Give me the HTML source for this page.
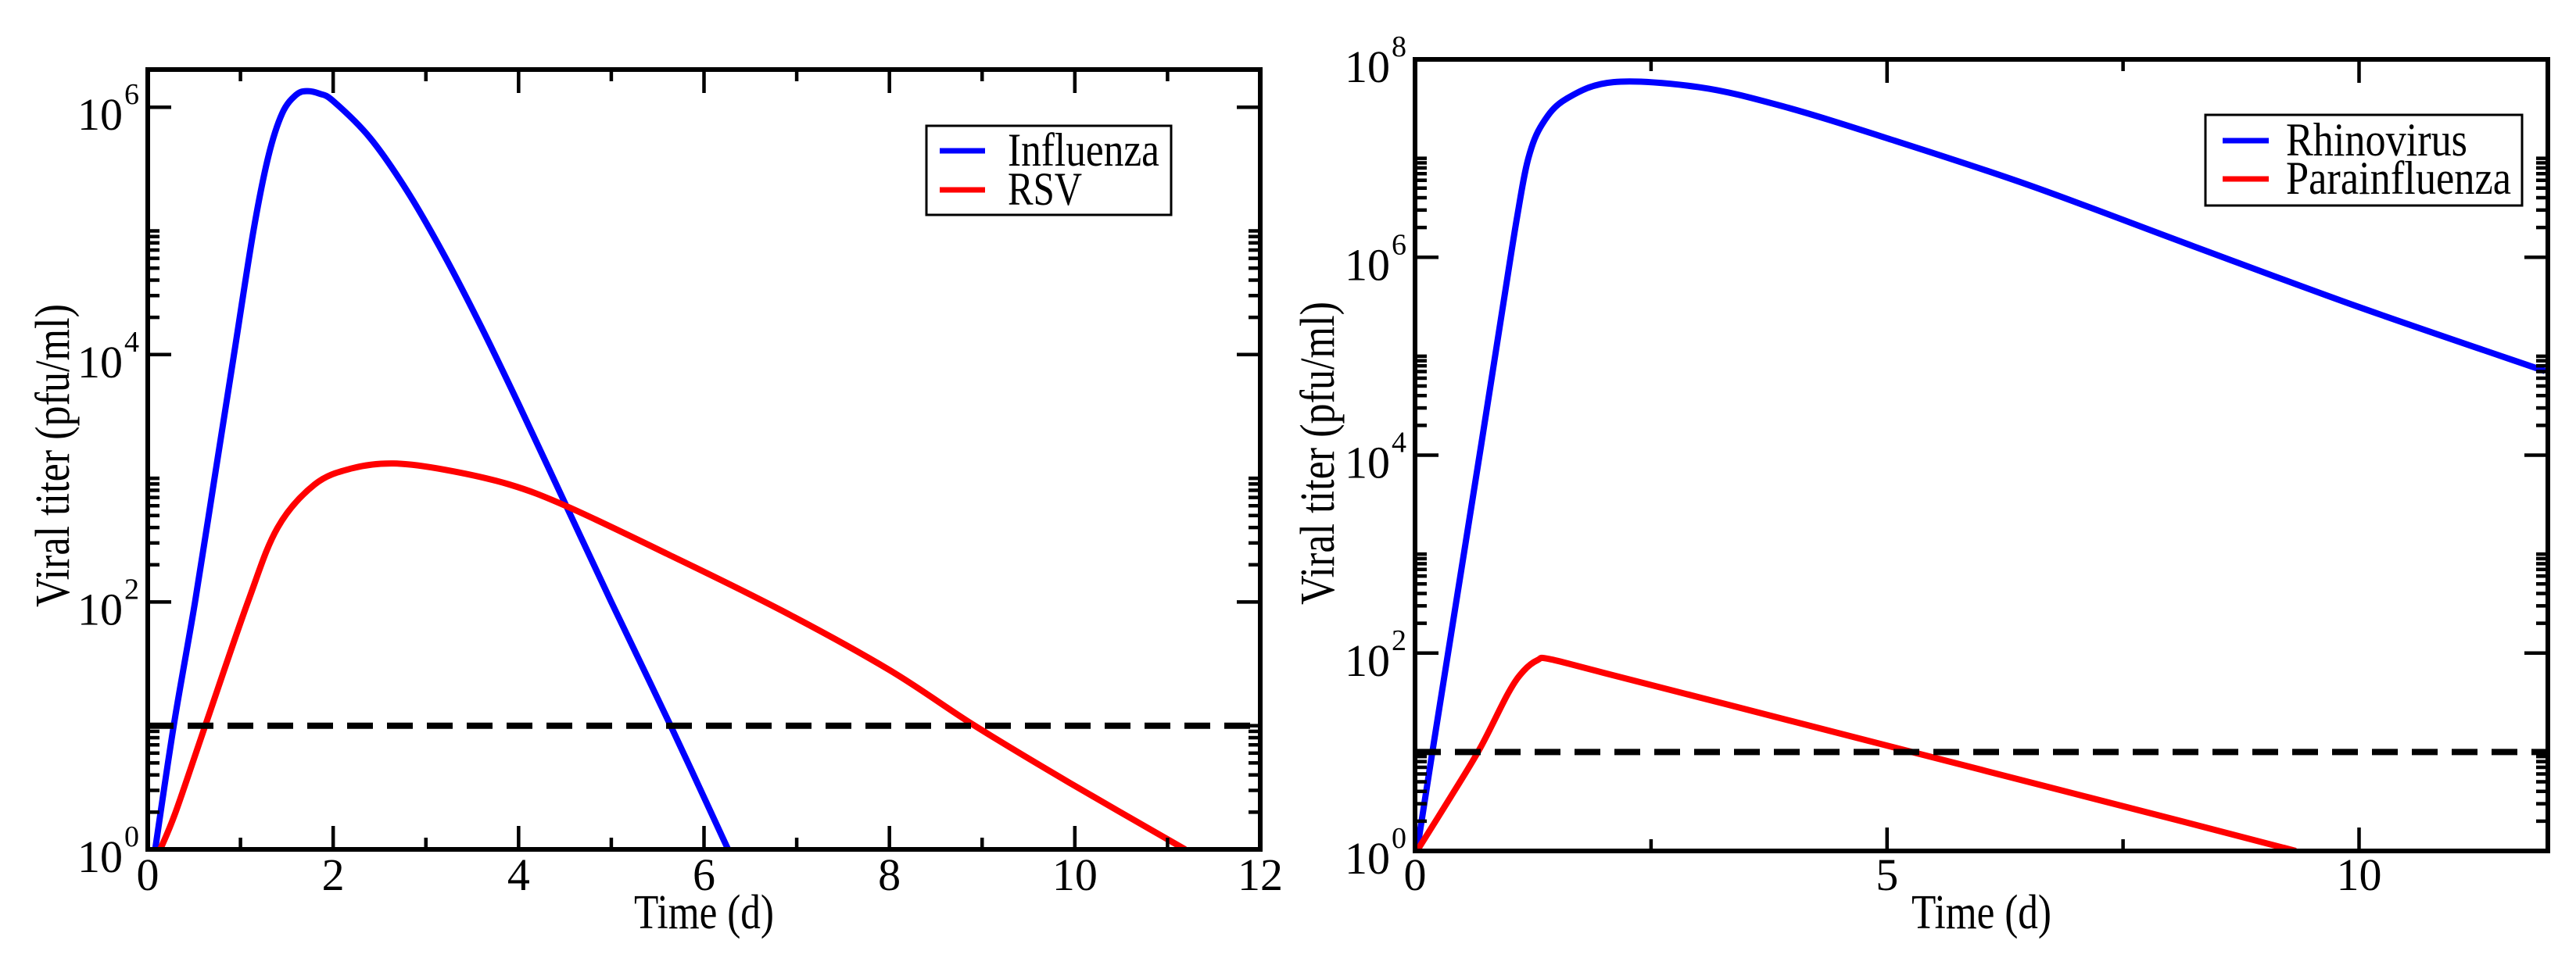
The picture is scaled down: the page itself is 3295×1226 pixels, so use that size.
<!DOCTYPE html>
<html><head><meta charset="utf-8"><style>
html,body{margin:0;padding:0;background:#fff;}
svg{display:block;font-family:"Liberation Serif",serif;}
</style></head><body>
<svg id="fig" width="3295" height="1226" viewBox="0 0 3295 1226" xmlns="http://www.w3.org/2000/svg"></svg>
<script>
// ---- Left panel data (t in days, log10 titer) ----
const fluT = [0.08,0.28,0.51,0.72,0.93,1.14,1.30,1.45,1.60,1.72,1.85,2.0,2.4,2.8,3.2,3.6,4.0,4.5,5.0,5.64,6.26];
const fluLog = [0,1.0,2.0,3.0,4.0,5.0,5.6,5.95,6.10,6.13,6.11,6.05,5.75,5.32,4.8,4.22,3.6,2.8,2.0,1.0,0];
const rsvT = [0.135,0.3,0.62,1.08,1.4,1.8,2.2,2.65,3.2,3.9,4.53,5.6,6.84,8.0,8.92,9.94,11.19];
const rsvLog = [0,0.3,1.0,2.0,2.6,2.95,3.08,3.12,3.07,2.95,2.77,2.39,1.93,1.45,1.0,0.54,0];
// ---- Right panel data ----
const rhinoT = [0.02,0.2,0.45,0.7,0.93,1.08,1.2,1.35,1.6,2.1,3.0,3.88,5.01,6.50,8.25,9.99,11.97];
const rhinoLog = [0,1.1,2.6,4.1,5.5,6.4,7.0,7.35,7.6,7.77,7.72,7.53,7.20,6.73,6.11,5.50,4.85];
const paraT = [0.02,0.38,0.69,0.99,1.15,1.3,1.42,2.0,4.0,6.0,8.0,9.33];
const paraLog = [0,0.55,1.04,1.6,1.82,1.93,1.94,1.80,1.31,0.82,0.33,0];
const threshold = 10;
const leftXTicks = [0,2,4,6,8,10,12];
const leftXMinor = [1,3,5,7,9,11];
const rightXTicks = [0,5,10];
const rightXMinor = [2.5,7.5];
const leftYExp = [0,2,4,6];
const rightYExp = [0,2,4,6,8];

const NS="http://www.w3.org/2000/svg";
const svg=document.getElementById('fig');
function mk(tag,attrs,parent){const e=document.createElementNS(NS,tag);for(const k in attrs)e.setAttribute(k,attrs[k]);(parent||svg).appendChild(e);return e;}

function panel(cfg){
  const g=mk('g',{});
  
  
  const {x0,x1,y0,y1,xmax,logmax}=cfg;
  const sx=t=>x0+(t/xmax)*(x1-x0);
  const sy=l=>y1-(l/logmax)*(y1-y0);
  const cid='clip-'+cfg.name;
  const cp=mk('clipPath',{id:cid},g);
  mk('rect',{x:x0,y:y0,width:x1-x0,height:y1-y0},cp);
  const pg=mk('g',{'clip-path':'url(#'+cid+')'},g);
  cfg.series.forEach(s=>{
    const pts=s.t.map((t,i)=>[sx(t),sy(s.l[i])]);
    let d='M'+pts[0][0]+','+pts[0][1];
    for(let i=0;i<pts.length-1;i++){
      const p0=pts[Math.max(0,i-1)],p1=pts[i],p2=pts[i+1],p3=pts[Math.min(pts.length-1,i+2)];
      const c1=[p1[0]+(p2[0]-p0[0])/6,p1[1]+(p2[1]-p0[1])/6];
      const c2=[p2[0]-(p3[0]-p1[0])/6,p2[1]-(p3[1]-p1[1])/6];
      d+=' C'+c1[0]+','+c1[1]+' '+c2[0]+','+c2[1]+' '+p2[0]+','+p2[1];
    }
    const p=mk('path',{d:d,fill:'none',stroke:s.color,'stroke-width':8,'stroke-linejoin':'round'},pg);
    
    
  });
  const ty=sy(Math.log10(threshold));
  const dl=mk('line',{x1:x0,x2:x1,y1:ty,y2:ty,stroke:'#000','stroke-width':8,'stroke-dasharray':'33 18'},pg);
  
  
  const tg=mk('g',{stroke:'#000','stroke-width':4.5},g);
  cfg.xTicks.forEach(t=>{const x=sx(t);mk('line',{x1:x,x2:x,y1:y1,y2:y1-30},tg);mk('line',{x1:x,x2:x,y1:y0,y2:y0+30},tg);});
  cfg.xMinor.forEach(t=>{const x=sx(t);mk('line',{x1:x,x2:x,y1:y1,y2:y1-15},tg);mk('line',{x1:x,x2:x,y1:y0,y2:y0+15},tg);});
  cfg.yExp.forEach(k=>{
    const y=sy(k);mk('line',{x1:x0,x2:x0+30,y1:y,y2:y},tg);mk('line',{x1:x1,x2:x1-30,y1:y,y2:y},tg);
    if(k<logmax-0.01){for(let m=2;m<=10;m++){const yy=sy(k+Math.log10(m));if(yy<y0)continue;mk('line',{x1:x0,x2:x0+15,y1:yy,y2:yy},tg);mk('line',{x1:x1,x2:x1-15,y1:yy,y2:yy},tg);}}
  });
  const fr=mk('rect',{x:x0,y:y0,width:x1-x0,height:y1-y0,fill:'none',stroke:'#000','stroke-width':6},g);
  
  
  cfg.xTicks.forEach(t=>{const e=mk('text',{x:sx(t),y:1139,'font-size':58,'text-anchor':'middle'},g);e.textContent=String(t);
    });
  cfg.yExp.forEach(k=>{const y=sy(k);
    const e=mk('text',{x:cfg.labX,y:y+29,'font-size':58,'text-anchor':'end'},g);e.textContent='10';
    
    const s=mk('text',{x:cfg.labX+2,y:y-4,'font-size':38},g);s.textContent=String(k);
    });
  const xt=mk('text',{x:(x0+x1)/2,y:1188,'font-size':62,'text-anchor':'middle',textLength:179,lengthAdjust:'spacingAndGlyphs'},g);xt.textContent='Time (d)';
  
  const yt=mk('text',{x:0,y:0,'font-size':62,'text-anchor':'middle',textLength:388,lengthAdjust:'spacingAndGlyphs',transform:'translate('+cfg.ytX+','+cfg.ytY+') rotate(-90)'},g);yt.textContent='Viral titer (pfu/ml)';
  
  const L=cfg.legend;
  const lg=mk('g',{},g);
  
  mk('rect',{x:L.x,y:L.y,width:L.w,height:L.h,fill:'#fff',stroke:'#000','stroke-width':3},lg);
  cfg.series.forEach((s,i)=>{
    const yy=L.ly[i];
    mk('line',{x1:L.lx0,x2:L.lx1,y1:yy,y2:yy,stroke:s.color,'stroke-width':7},lg);
    const e=mk('text',{x:L.tx,y:yy+19,'font-size':60,textLength:s.tl,lengthAdjust:'spacingAndGlyphs'},lg);e.textContent=s.label;
    
  });
}

panel({name:'influenza-rsv-panel',x0:189,x1:1612,y0:89,y1:1087,xmax:12,logmax:(1087-89)/158.3,
  xTicks:leftXTicks,xMinor:leftXMinor,yExp:leftYExp,labX:157,ytX:88,ytY:583,
  series:[{id:'influenza',t:fluT,l:fluLog,color:'#0000ff',label:'Influenza',tl:194},
          {id:'rsv',t:rsvT,l:rsvLog,color:'#ff0000',label:'RSV',tl:95}],
  legend:{x:1185,y:161,w:313,h:114,lx0:1202,lx1:1260,ly:[193,243],tx:1289}});
panel({name:'rhinovirus-parainfluenza-panel',x0:1810,x1:3259,y0:76,y1:1089,xmax:12,logmax:8,
  xTicks:rightXTicks,xMinor:rightXMinor,yExp:rightYExp,labX:1778,ytX:1706,ytY:580,
  series:[{id:'rhinovirus',t:rhinoT,l:rhinoLog,color:'#0000ff',label:'Rhinovirus',tl:232},
          {id:'parainfluenza',t:paraT,l:paraLog,color:'#ff0000',label:'Parainfluenza',tl:288}],
  legend:{x:2821,y:147,w:405,h:116,lx0:2843,lx1:2902,ly:[180,229],tx:2924}});
</script>
</body></html>
